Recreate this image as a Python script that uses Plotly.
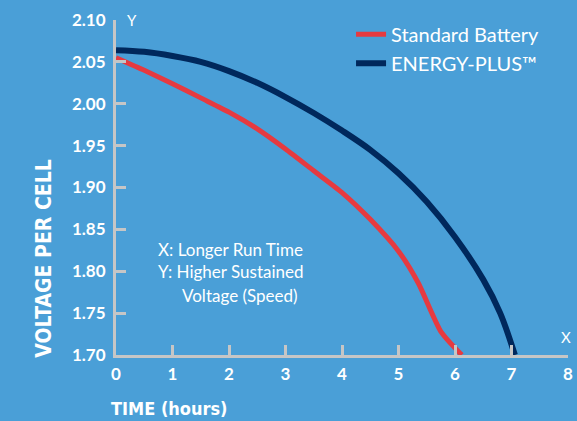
import plotly.graph_objects as go

# Data
std_time = [0, 0.5, 1.0, 1.5, 2.0, 2.5, 3.0, 3.5, 4.0, 4.5, 5.0, 5.35, 5.75, 6.12]
std_volt = [2.055, 2.040, 2.024, 2.007, 1.990, 1.970, 1.946, 1.920, 1.894, 1.862, 1.824, 1.786, 1.728, 1.700]

ep_time = [0, 0.5, 1.0, 1.5, 2.0, 2.5, 3.0, 3.5, 4.0, 4.5, 5.0, 5.5, 6.0, 6.5, 6.8, 7.06]
ep_volt = [2.064, 2.062, 2.057, 2.050, 2.039, 2.025, 2.008, 1.989, 1.968, 1.945, 1.917, 1.883, 1.841, 1.790, 1.750, 1.700]

x_ticks = [0, 1, 2, 3, 4, 5, 6, 7, 8]
y_ticks = [1.70, 1.75, 1.80, 1.85, 1.90, 1.95, 2.00, 2.05, 2.10]
y_tick_text = ["1.70", "1.75", "1.80", "1.85", "1.90", "1.95", "2.00", "2.05", "2.10"]

BG = "#4a9fd7"
RED = "#e63a40"
NAVY = "#00285c"
AXIS = "#c6c6c6"
TXT_FONT = "Lato"
COND_FONT = "DejaVu Sans Condensed"

fig = go.Figure()
fig.add_trace(go.Scatter(x=std_time, y=std_volt, mode="lines", name="Standard Battery",
                         line=dict(color=RED, width=5, shape="spline", smoothing=0.6)))
fig.add_trace(go.Scatter(x=ep_time, y=ep_volt, mode="lines", name="ENERGY-PLUS\u2122",
                         line=dict(color=NAVY, width=6, shape="spline", smoothing=1.0)))

fig.update_layout(
    width=577, height=421,
    paper_bgcolor=BG, plot_bgcolor=BG,
    margin=dict(l=116, r=9, t=20, b=66, autoexpand=False),
    showlegend=True,
    legend=dict(x=0.52, y=1.016, xanchor="left", yanchor="top",
                bgcolor="rgba(0,0,0,0)", font=dict(family=TXT_FONT, size=20, color="white"),
                tracegroupgap=0, itemwidth=30),
    xaxis=dict(range=[0, 8], tickmode="array", tickvals=x_ticks, ticks="",
               showline=True, linecolor=AXIS, linewidth=3, showgrid=False, zeroline=False,
               tickfont=dict(family=TXT_FONT, size=17, color="white", weight="bold"),
               ticklabelstandoff=2,
               minor=dict(tickmode="array", tickvals=[1, 2, 3, 4, 5, 6, 7], ticks="inside",
                          ticklen=10, tickwidth=3, tickcolor=AXIS, showgrid=False)),
    yaxis=dict(range=[1.70, 2.10], tickmode="array", tickvals=y_ticks, ticktext=y_tick_text,
               ticks="", showline=True, linecolor=AXIS, linewidth=3, showgrid=False, zeroline=False,
               tickfont=dict(family=TXT_FONT, size=17, color="white", weight="bold"),
               ticklabelstandoff=4,
               minor=dict(tickmode="array", tickvals=[1.75, 1.80, 1.85, 1.90, 1.95, 2.00, 2.05],
                          ticks="inside", ticklen=10, tickwidth=3, tickcolor=AXIS, showgrid=False)),
)

annos = [
    dict(text="VOLTAGE PER CELL", xref="paper", yref="paper", x=-0.16, y=-0.015,
         xanchor="center", yanchor="bottom", textangle=-90, showarrow=False,
         font=dict(family=COND_FONT, size=21, color="white", weight="bold")),
    dict(text="TIME (hours)", xref="paper", yref="paper", x=-0.015, y=-0.16,
         xanchor="left", yanchor="middle", showarrow=False,
         font=dict(family=COND_FONT, size=18, color="white", weight="bold")),
    dict(text="Y", xref="paper", yref="paper", x=0.02, y=1.0,
         xanchor="left", yanchor="middle", showarrow=False,
         font=dict(family=TXT_FONT, size=15, color="white")),
    dict(text="X", xref="paper", yref="paper", x=0.995, y=0.055,
         xanchor="center", yanchor="middle", showarrow=False,
         font=dict(family=TXT_FONT, size=15, color="white")),
    dict(text="X: Longer Run Time", xref="x", yref="y", x=0.71, y=1.826,
         xanchor="left", yanchor="middle", showarrow=False,
         font=dict(family=TXT_FONT, size=17, color="white")),
    dict(text="Y: Higher Sustained", xref="x", yref="y", x=0.71, y=1.7995,
         xanchor="left", yanchor="middle", showarrow=False,
         font=dict(family=TXT_FONT, size=17, color="white")),
    dict(text="Voltage (Speed)", xref="x", yref="y", x=1.13, y=1.771,
         xanchor="left", yanchor="middle", showarrow=False,
         font=dict(family=TXT_FONT, size=17, color="white")),
]
fig.update_layout(annotations=annos)

fig.write_html("out.html", config={"displayModeBar": False},
               post_script="document.body.style.margin='0';")
